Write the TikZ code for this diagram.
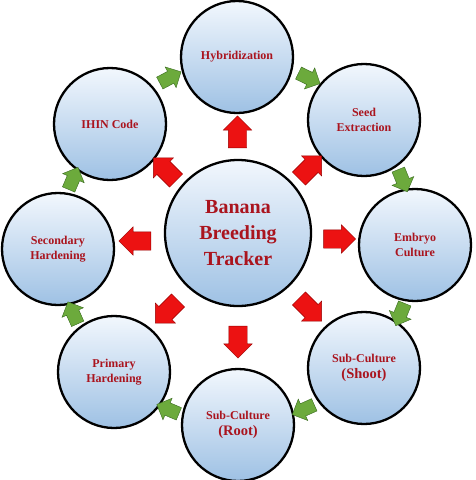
\documentclass[tikz,border=0pt]{standalone}
\usepackage{fontspec}
\setmainfont{Liberation Serif}
\usepackage{xcolor}
\usepackage{tikz}
\usetikzlibrary{shapes,shapes.arrows,calc}
\definecolor{txtred}{RGB}{170,20,30}
\definecolor{ballup}{RGB}{242,247,253}
\definecolor{balldown}{RGB}{158,193,228}
\definecolor{redfill}{RGB}{236,18,18}
\definecolor{redline}{RGB}{150,0,0}
\definecolor{grfill}{RGB}{108,170,60}
\definecolor{grline}{RGB}{55,105,30}

\begin{document}
\begin{tikzpicture}[x=1pt,y=-1pt,
ball/.style={circle,draw=black,line width=2.3pt,top color=ballup,bottom color=balldown,minimum size=112pt,inner sep=0pt,align=center,font=\bfseries\fontsize{12}{15.5}\selectfont,text=txtred},
bigball/.style={ball,minimum size=146pt,font=\bfseries\fontsize{20}{26}\selectfont},
redarr/.style={single arrow,fill=redfill,draw=redline,line width=0.4pt,minimum height=32pt,inner xsep=0pt,inner ysep=9pt,single arrow head extend=5pt},
grarr/.style={single arrow,fill=grfill,draw=grline,line width=0.4pt,minimum height=24pt,inner xsep=0pt,inner ysep=6.5pt,single arrow head extend=5pt}]
\useasboundingbox(0,0)rectangle(475,480);
% hub and the eight stages
\node[bigball](c)at(238,233){Banana\\Breeding\\Tracker};
\node[ball](hyb)at(237,57){Hybridization};
\node[ball](seed)at(364,120){Seed\\Extraction};
\node[ball](emb)at(415,245){Embryo\\Culture};
\node[ball](shoot)at(364,368){Sub-Culture\\{\fontsize{14.5}{17}\selectfont(Shoot)}};
\node[ball](root)at(238,425){Sub-Culture\\{\fontsize{14.5}{17}\selectfont(Root)}};
\node[ball](prim)at(114,372){Primary\\Hardening};
\node[ball](sec)at(58,249){Secondary\\Hardening};
\node[ball](ihin)at(110,124){IHIN Code};
% red arrows out of the hub
\node[redarr,rotate=90]at($(c.north)!0.5!(hyb.south)$){};
\node[redarr,rotate=45]at($(c.north east)!0.5!(seed.south west)$){};
\node[redarr]at($(c.east)!0.5!(emb.west)$){};
\node[redarr,rotate=-45]at($(c.south east)!0.5!(shoot.north west)$){};
\node[redarr,rotate=-90]at($(c.south)!0.5!(root.north)$){};
\node[redarr,rotate=-135]at($(c.south west)!0.5!(prim.north east)$){};
\node[redarr,rotate=180]at($(c.west)!0.5!(sec.east)$){};
\node[redarr,rotate=135]at($(c.north west)!0.5!(ihin.south east)$){};
% green arrows round the ring
\node[grarr,rotate=-26]at($(hyb)!0.5!(seed)!13pt!90:(seed)$){};
\node[grarr,rotate=-68]at($(seed)!0.5!(emb)!13pt!90:(emb)$){};
\node[grarr,rotate=-112]at($(emb)!0.5!(shoot)!13pt!90:(shoot)$){};
\node[grarr,rotate=-156]at($(shoot)!0.5!(root)!13pt!90:(root)$){};
\node[grarr,rotate=157]at($(root)!0.5!(prim)!13pt!90:(prim)$){};
\node[grarr,rotate=114]at($(prim)!0.5!(sec)!13pt!90:(sec)$){};
\node[grarr,rotate=67]at($(sec)!0.5!(ihin)!13pt!90:(ihin)$){};
\node[grarr,rotate=28]at($(ihin)!0.5!(hyb)!13pt!90:(hyb)$){};
\end{tikzpicture}
\end{document}
